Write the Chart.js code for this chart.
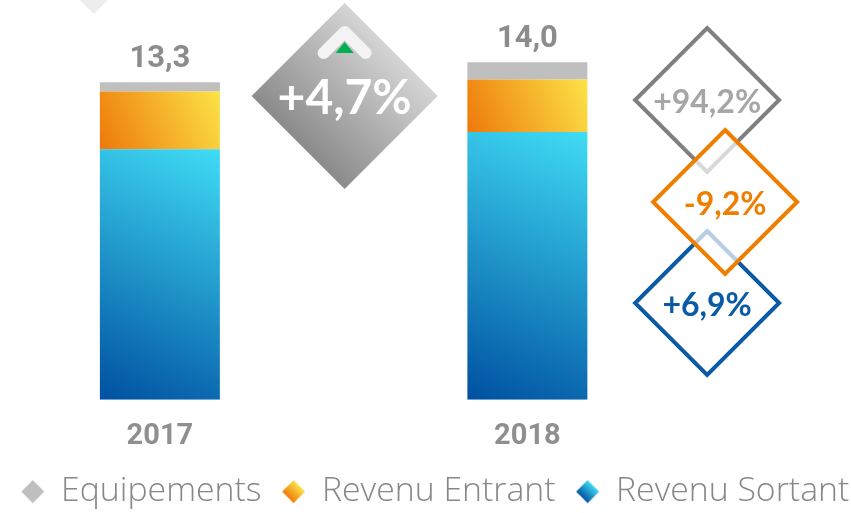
<!DOCTYPE html>
<html><head><meta charset="utf-8">
<script src="https://cdn.jsdelivr.net/npm/chart.js@4.4.0/dist/chart.umd.min.js"></script>
<style>html,body{margin:0;padding:0;background:#fff}#wrap{width:851px;height:513px;position:relative}</style>
</head><body><div id="wrap"><canvas id="c"></canvas></div>
<script>
// ---- data ----
const categories = ['2017', '2018'];
const revenuSortant = [10.47, 11.19];
const revenuEntrant = [2.41, 2.19];
const equipements = [0.38, 0.72];
const totals = [13.3, 14.0];
const seriesNames = ['Equipements', 'Revenu Entrant', 'Revenu Sortant'];
const seriesChanges = ['+94,2%', '-9,2%', '+6,9%'];
const totalChange = '+4,7%';

// each category is followed by an empty slot that holds the annotations
const labels = categories.flatMap(c => [c, '']);
const spread = arr => arr.flatMap(v => [v, null]);

const BAR_PCT = 0.653;
const sortantStops = ['#0050a0', '#40dcf5'];
const entrantStops = ['#ee790b', '#fce347'];
const equipColor = '#bfbfbf';

function barGradient(stops) {
  return (ctx) => {
    const chart = ctx.chart;
    if (ctx.type !== 'data' || !chart.chartArea) return stops[1];
    const xs = chart.scales.x, ys = chart.scales.y;
    const i = ctx.dataIndex;
    let base = 0;
    for (let d = 0; d < ctx.datasetIndex; d++) base += chart.data.datasets[d].data[i] || 0;
    const v = chart.data.datasets[ctx.datasetIndex].data[i] || 0;
    const w = xs.width / labels.length * BAR_PCT;
    const xc = xs.getPixelForValue(i);
    const g = chart.ctx.createLinearGradient(xc - w / 2, ys.getPixelForValue(base), xc + w / 2, ys.getPixelForValue(base + v));
    g.addColorStop(0, stops[0]);
    g.addColorStop(1, stops[1]);
    return g;
  };
}

// legend markers: diamond drawn slightly right of the canvas centre
const LEG_BOX = 42.5, LEG_OFF = 9.75;
function diamondMarker(fill) {
  const c = document.createElement('canvas');
  const half = LEG_OFF + 12;
  c.width = Math.round(half * 2); c.height = 24;
  const g = c.getContext('2d');
  const cx = c.width / 2 + LEG_OFF, cy = 12;
  g.beginPath();
  g.moveTo(cx, cy - 11.5); g.lineTo(cx + 11.5, cy); g.lineTo(cx, cy + 11.5); g.lineTo(cx - 11.5, cy); g.closePath();
  if (Array.isArray(fill)) {
    const gr = g.createLinearGradient(cx - 6, cy + 6, cx + 6, cy - 6);
    gr.addColorStop(0, fill[0]); gr.addColorStop(1, fill[1]);
    g.fillStyle = gr;
  } else g.fillStyle = fill;
  g.fill();
  return c;
}
const markers = [diamondMarker(equipColor), diamondMarker(entrantStops), diamondMarker(sortantStops)];

function diamondPath(ctx, cx, cy, r) {
  ctx.beginPath();
  ctx.moveTo(cx, cy - r); ctx.lineTo(cx + r, cy); ctx.lineTo(cx, cy + r); ctx.lineTo(cx - r, cy); ctx.closePath();
}

const annotations = {
  id: 'annotations',
  afterDatasetsDraw(chart) {
    const {ctx, chartArea: a, scales: {x, y}} = chart;
    ctx.save();
    // totals above stacks
    ctx.font = 'bold 31px Roboto';
    ctx.fillStyle = '#8c8c8c';
    ctx.textAlign = 'center';
    ctx.textBaseline = 'alphabetic';
    categories.forEach((c, k) => {
      const top = y.getPixelForValue(revenuSortant[k] + revenuEntrant[k] + equipements[k]);
      ctx.fillText(totals[k].toFixed(1).replace('.', ','), x.getPixelForValue(k * 2), top - 15);
    });

    // faint decoration top-left
    diamondPath(ctx, x.getPixelForValue(0) - 66, a.top - 2, 16);
    ctx.fillStyle = '#ededed';
    ctx.fill();

    // big grey diamond with total change
    const cx = x.getPixelForValue(1) + 1, cy = a.top + 96, R = 93;
    diamondPath(ctx, cx, cy, R);
    const gg = ctx.createLinearGradient(cx - R / 2, cy + R / 2, cx + R / 2, cy - R / 2);
    gg.addColorStop(0, '#8b8b8b'); gg.addColorStop(1, '#d4d4d4');
    ctx.fillStyle = gg;
    ctx.fill();
    ctx.beginPath();
    ctx.moveTo(cx - 21, cy - 43); ctx.lineTo(cx, cy - 64); ctx.lineTo(cx + 21, cy - 43);
    ctx.strokeStyle = '#f3f3f3'; ctx.lineWidth = 12; ctx.lineCap = 'round'; ctx.lineJoin = 'round';
    ctx.stroke();
    ctx.beginPath();
    ctx.moveTo(cx, cy - 54); ctx.lineTo(cx + 9, cy - 43); ctx.lineTo(cx - 9, cy - 43); ctx.closePath();
    ctx.fillStyle = '#00b050';
    ctx.fill();
    ctx.font = 'bold 48px Lato';
    ctx.fillStyle = '#ffffff';
    ctx.textBaseline = 'middle';
    ctx.fillText(totalChange, cx, cy + 3);

    // series change diamonds
    const rx = x.getPixelForValue(3);
    const boxes = [
      {x: rx - 4, y: a.top + 100, stroke: '#808080', text: '#a6a6a6'},
      {x: rx + 14, y: a.top + 202, stroke: '#ef7e00', text: '#ef7e00'},
      {x: rx - 4, y: a.top + 303, stroke: '#0a5aa6', text: '#0a5aa6'},
    ];
    const r = 72;
    ctx.lineWidth = 4; ctx.lineJoin = 'miter'; ctx.lineCap = 'butt';
    [0, 2].forEach(k => {
      diamondPath(ctx, boxes[k].x, boxes[k].y, r);
      ctx.strokeStyle = boxes[k].stroke; ctx.stroke();
    });
    diamondPath(ctx, boxes[1].x, boxes[1].y, r);
    ctx.fillStyle = 'rgba(255,255,255,0.7)'; ctx.fill();
    ctx.strokeStyle = boxes[1].stroke; ctx.stroke();
    ctx.font = 'bold 32px Lato';
    boxes.forEach((b, k) => {
      ctx.fillStyle = b.text;
      ctx.fillText(seriesChanges[k], b.x, b.y + 3);
    });
    ctx.restore();
  }
};

new Chart(document.getElementById('c'), {
  type: 'bar',
  data: {
    labels,
    datasets: [
      {label: seriesNames[2], data: spread(revenuSortant), backgroundColor: barGradient(sortantStops)},
      {label: seriesNames[1], data: spread(revenuEntrant), backgroundColor: barGradient(entrantStops)},
      {label: seriesNames[0], data: spread(equipements), backgroundColor: equipColor},
    ]
  },
  options: {
    responsive: true,
    maintainAspectRatio: false,
    animation: false,
    datasets: {bar: {categoryPercentage: 1, barPercentage: BAR_PCT, borderWidth: 0}},
    layout: {padding: {left: 0, right: 0, top: 0, bottom: -5.5}},
    scales: {
      x: {
        stacked: true,
        grid: {display: false, drawTicks: false}, border: {display: false},
        ticks: {autoSkip: false, maxRotation: 0, padding: 11.3, color: '#8f8f8f',
                font: {family: 'Roboto', size: 29, weight: 'bold', lineHeight: 1.77}}
      },
      y: {
        stacked: true, min: 0, max: 16.7,
        grid: {display: false, drawTicks: false}, border: {display: false}, ticks: {display: false},
        afterFit: s => { s.width = 68; }
      },
      y2: {
        position: 'right',
        grid: {display: false, drawTicks: false}, border: {display: false}, ticks: {display: false},
        afterFit: s => { s.width = 48; }
      }
    },
    plugins: {
      tooltip: {enabled: false},
      legend: {
        position: 'bottom',
        labels: {
          usePointStyle: true, pointStyleWidth: LEG_BOX, padding: 1, color: '#878787',
          font: {family: "'Open Sans'", size: 33.8, weight: 300},
          generateLabels: () => seriesNames.map((t, k) => ({
            text: t, pointStyle: markers[k], fillStyle: 'transparent', strokeStyle: 'transparent',
            lineWidth: 0, hidden: false, fontColor: '#878787', datasetIndex: 2 - k
          }))
        }
      }
    }
  },
  plugins: [annotations]
});
</script>
</body></html>
